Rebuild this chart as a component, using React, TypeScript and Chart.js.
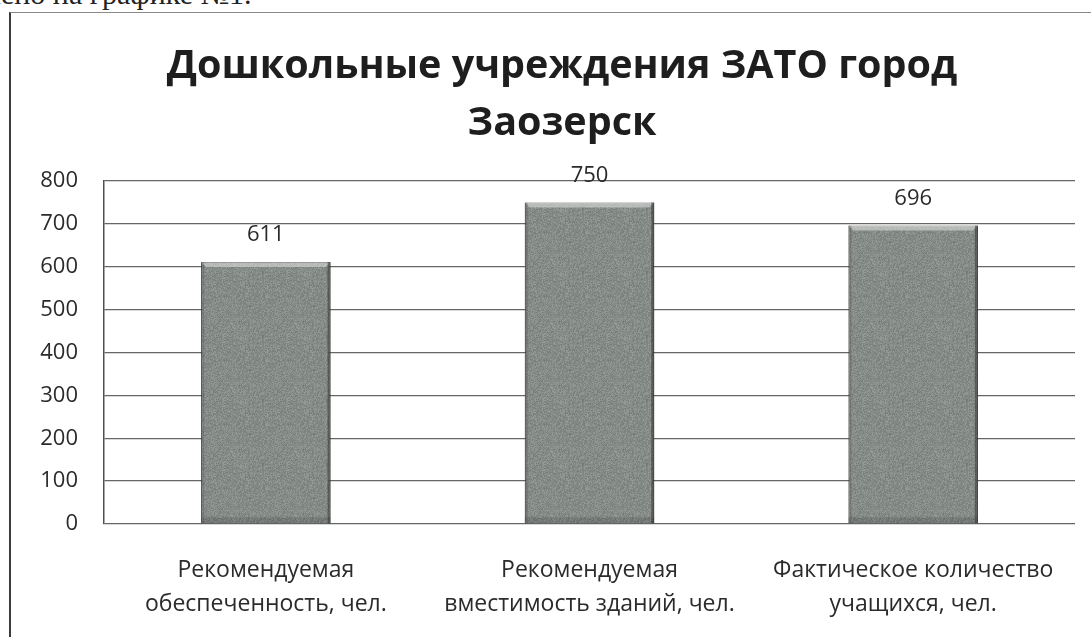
import React, { useEffect, useRef } from "react";
import { Chart, registerables } from "chart.js";

Chart.register(...registerables);

const categories: string[][] = [
  ["Рекомендуемая", "обеспеченность, чел."],
  ["Рекомендуемая", "вместимость зданий, чел."],
  ["Фактическое количество", "учащихся, чел."],
];
const values: number[] = [611, 750, 696];
const titleLines: string[] = ["Дошкольные учреждения ЗАТО город", "Заозерск"];
const yMin = 0;
const yMax = 800;
const yStep = 100;

const FONT = "'Open Sans', 'DejaVu Sans', sans-serif";

function makeTexture(): CanvasPattern | string {
  const c = document.createElement("canvas");
  c.width = 64;
  c.height = 64;
  const g = c.getContext("2d");
  if (!g) return "#8a8f8b";
  const img = g.createImageData(64, 64);
  for (let i = 0; i < 64 * 64; i++) {
    let h = (i * 2654435761) >>> 0;
    h ^= h >>> 13;
    h = (h * 1274126177) >>> 0;
    h ^= h >>> 16;
    const v = 134 + ((h & 31) - 16);
    img.data[i * 4] = v;
    img.data[i * 4 + 1] = v + 6;
    img.data[i * 4 + 2] = v + 2;
    img.data[i * 4 + 3] = 255;
  }
  g.putImageData(img, 0, 0);
  const p = g.createPattern(c, "repeat");
  return p || "#8a8f8b";
}

const decorPlugin = {
  id: "decor",
  afterDatasetsDraw(chart: any) {
    const ctx = chart.ctx;
    const meta = chart.getDatasetMeta(0);
    ctx.save();
    meta.data.forEach((bar: any, i: number) => {
      const { x, y, base, width } = bar.getProps(["x", "y", "base", "width"], true);
      const l = x - width / 2;
      const r = x + width / 2;
      ctx.fillStyle = "rgba(225,228,225,0.55)";
      ctx.beginPath();
      ctx.moveTo(l, y);
      ctx.lineTo(r, y);
      ctx.lineTo(r - 5, y + 5);
      ctx.lineTo(l + 5, y + 5);
      ctx.closePath();
      ctx.fill();
      ctx.fillStyle = "rgba(30,30,30,0.45)";
      ctx.fillRect(r - 3, y, 3, base - y);
      ctx.fillStyle = "rgba(40,40,40,0.2)";
      ctx.fillRect(l, y, 3, base - y);
      ctx.fillStyle = "rgba(40,40,40,0.18)";
      ctx.fillRect(l, base - 6, width, 6);
      ctx.fillStyle = "#2a2a2a";
      ctx.font = `22px ${FONT}`;
      ctx.textAlign = "center";
      ctx.textBaseline = "middle";
      ctx.fillText(String(values[i]), x, y - 27);
    });
    ctx.restore();
  },
  afterDraw(chart: any) {
    const ctx = chart.ctx;
    ctx.save();
    ctx.fillStyle = "#1e1e1e";
    ctx.font = `bold 39.5px ${FONT}`;
    ctx.textAlign = "center";
    ctx.textBaseline = "middle";
    ctx.fillText(titleLines[0], 562, 67);
    ctx.fillText(titleLines[1], 562, 124);
    ctx.restore();
  },
};

export default function App() {
  const ref = useRef<HTMLCanvasElement>(null);

  useEffect(() => {
    if (!ref.current) return;
    const texture = makeTexture();
    const chart = new Chart(ref.current, {
      type: "bar",
      data: {
        labels: categories,
        datasets: [
          {
            data: values,
            backgroundColor: texture as any,
            borderColor: "#3e423f",
            borderWidth: 1,
            barPercentage: 0.8,
            categoryPercentage: 0.5,
          },
        ],
      },
      options: {
        responsive: false,
        animation: false,
        events: [],
        layout: { padding: { left: 10, right: 16, top: 181, bottom: 0 } },
        plugins: {
          legend: { display: false },
          title: { display: false },
          tooltip: { enabled: false },
        },
        scales: {
          x: {
            grid: { display: false, drawTicks: false },
            border: { display: false },
            ticks: {
              color: "#2b2b2b",
              font: { family: FONT, size: 23, lineHeight: "34px" },
              padding: 29,
              maxRotation: 0,
              autoSkip: false,
            },
            afterFit: (s: any) => {
              s.height = 113;
            },
          },
          y: {
            min: yMin,
            max: yMax,
            grid: { color: "#666666", lineWidth: 1.3, drawTicks: false },
            border: { display: true, color: "#505050", width: 1.5 },
            ticks: {
              stepSize: yStep,
              color: "#2b2b2b",
              font: { family: FONT, size: 22 },
              padding: 26,
            },
            afterFit: (s: any) => {
              s.width = 94;
            },
          },
        },
      },
      plugins: [decorPlugin],
    });
    return () => chart.destroy();
  }, []);

  return (
    <div
      style={{
        position: "fixed",
        left: 0,
        top: 0,
        width: 1091,
        height: 637,
        overflow: "hidden",
        background: "#ffffff",
      }}
    >
      <div
        style={{
          position: "absolute",
          left: -14,
          top: -21,
          fontFamily: "'Liberation Serif', serif",
          fontSize: 30,
          lineHeight: 1,
          color: "#222",
          whiteSpace: "nowrap",
        }}
      >
        лено на графике №1.
      </div>
      <div
        style={{
          position: "absolute",
          left: 9,
          top: 12,
          width: 1100,
          height: 700,
          borderLeft: "2px solid #3c3c3c",
          borderTop: "1.5px solid #8a8a8a",
          boxSizing: "border-box",
        }}
      />
      <canvas
        ref={ref}
        width={1091}
        height={637}
        style={{ position: "absolute", left: 0, top: 0 }}
      />
    </div>
  );
}
